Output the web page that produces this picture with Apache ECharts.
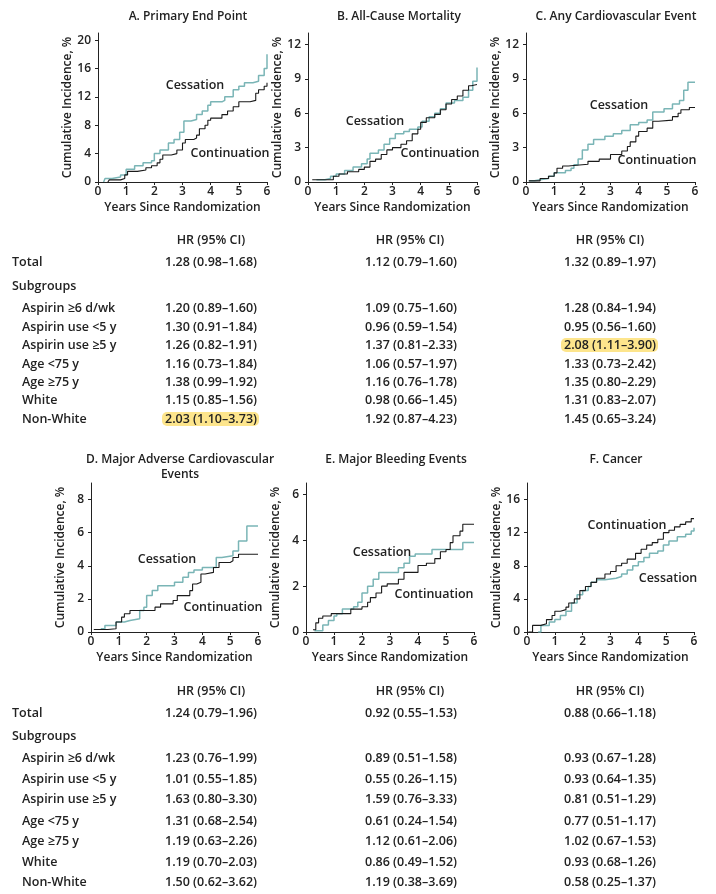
<!DOCTYPE html>
<html><head><meta charset="utf-8">
<script src="https://cdn.jsdelivr.net/npm/echarts@6/dist/echarts.min.js"></script>
<style>html,body{margin:0;padding:0;background:#fff}#c{width:716px;height:894px}</style>
</head><body><div id="c"></div>
<script>
// ---- data (time in years, cumulative incidence %) ----
const aCess = [[0.2,0],[0.25,0.5],[0.5,0.7],[0.8,1],[1.0,1.8],[1.3,2.3],[1.6,2.7],[1.9,3],[2.0,4],[2.2,4.5],[2.5,5.5],[2.7,6],[2.9,7],[3.05,8.6],[3.3,8.8],[3.5,9.5],[3.7,10],[3.9,10.8],[4.0,11.3],[4.4,11.5],[4.5,12],[4.8,13],[5.0,13.5],[5.2,14],[5.5,14.2],[5.7,15],[5.9,16],[6.0,18]];
const aCont = [[0.35,0],[0.4,0.3],[0.8,0.5],[0.95,1],[1.05,1.5],[1.4,1.7],[1.7,2],[1.9,2.3],[2.1,2.7],[2.2,3.2],[2.3,3.8],[2.6,4],[2.8,4.5],[3.0,5.5],[3.1,6],[3.4,6.2],[3.5,6.6],[3.6,7.5],[3.8,8],[3.9,8.7],[4.0,9],[4.4,9.5],[4.6,10],[4.8,10.6],[5.0,11.3],[5.4,11.5],[5.6,12.5],[5.7,13],[5.9,13.5],[6.0,14]];
const bCess = [[0.3,0.2],[0.6,0.3],[0.8,0.5],[1.0,0.7],[1.3,1.0],[1.6,1.3],[1.9,1.6],[2.1,2.0],[2.2,2.5],[2.5,2.8],[2.7,3.3],[2.9,3.8],[3.1,4.2],[3.4,4.4],[3.6,4.6],[3.9,4.8],[4.05,5.3],[4.3,5.7],[4.5,6.0],[4.7,6.4],[4.9,6.9],[5.2,7.1],[5.5,7.4],[5.7,8.0],[5.85,8.8],[6.0,10.0]];
const bCont = [[0.15,0.2],[0.9,0.5],[1.1,0.7],[1.4,0.9],[1.8,1.1],[2.0,1.3],[2.2,1.8],[2.4,2.0],[2.6,2.4],[2.8,2.8],[3.0,3.0],[3.3,3.3],[3.5,3.6],[3.7,4.2],[3.9,4.6],[4.0,5.2],[4.2,5.6],[4.5,5.9],[4.7,6.3],[4.9,6.8],[5.1,7.2],[5.3,7.5],[5.5,8.0],[5.7,8.4],[5.8,8.5],[6.0,8.5]];
const cCess = [[0.1,0.1],[0.3,0.2],[0.5,0.3],[0.8,0.5],[1.0,0.8],[1.4,1.0],[1.6,1.2],[1.7,1.5],[1.85,2.0],[2.0,2.8],[2.2,3.3],[2.4,3.7],[2.8,4.0],[3.1,4.2],[3.4,4.5],[3.7,5.0],[4.0,5.2],[4.3,5.4],[4.5,6.1],[4.9,6.4],[5.2,6.8],[5.45,7.1],[5.6,8.0],[5.75,8.7],[6.0,8.7]];
const cCont = [[0.1,0.1],[0.5,0.3],[0.8,0.5],[1.0,0.8],[1.1,1.2],[1.3,1.4],[1.5,1.55],[2.2,1.8],[2.6,2.0],[3.0,2.4],[3.4,2.7],[3.6,3.1],[3.7,3.5],[3.9,4.0],[4.0,4.4],[4.3,4.7],[4.5,5.3],[4.7,5.4],[5.2,5.7],[5.4,6.0],[5.5,6.3],[5.8,6.5],[6.0,6.5]];
const dCess = [[0.35,0.2],[0.5,0.4],[0.9,0.6],[1.2,0.7],[1.4,0.8],[1.75,1.3],[1.9,1.5],[2.0,2.2],[2.2,2.5],[2.4,2.8],[3.0,3.0],[3.3,3.3],[3.5,3.6],[3.7,3.75],[4.0,3.9],[4.5,4.5],[4.7,4.6],[5.1,4.9],[5.3,5.5],[5.6,6.4],[6.0,6.4]];
const dCont = [[0.1,0.15],[0.6,0.2],[0.9,0.6],[1.1,0.9],[1.2,1.1],[1.4,1.3],[2.3,1.5],[2.5,1.7],[2.95,1.9],[3.1,2.2],[3.55,2.5],[3.65,2.9],[3.8,3.0],[3.95,3.5],[4.1,3.6],[4.4,3.9],[4.6,4.2],[5.0,4.3],[5.1,4.5],[5.3,4.7],[6.0,4.7]];
const eCess = [[0.3,0.05],[0.6,0.3],[0.8,0.5],[1.0,0.7],[1.1,0.8],[1.3,1.0],[1.7,1.1],[1.85,1.3],[2.0,1.7],[2.2,2.0],[2.4,2.3],[2.6,2.6],[3.3,2.8],[3.5,3.0],[3.7,3.3],[3.9,3.4],[4.5,3.6],[5.6,3.9],[6.0,3.9]];
const eCont = [[0.25,0.1],[0.35,0.4],[0.45,0.6],[0.6,0.7],[0.9,0.8],[1.6,1.0],[2.0,1.1],[2.2,1.3],[2.3,1.5],[2.5,1.7],[2.7,2.0],[2.9,2.1],[3.3,2.3],[3.5,2.6],[4.0,2.9],[4.3,3.0],[4.6,3.2],[4.8,3.5],[5.0,3.6],[5.15,3.9],[5.25,4.2],[5.5,4.4],[5.6,4.7],[6.0,4.7]];
const fCess = [[0.4,0],[0.5,0.8],[0.8,1.2],[1.0,1.5],[1.2,2.0],[1.4,2.5],[1.6,3.5],[1.8,4.5],[2.0,5.0],[2.2,5.5],[2.3,6.0],[2.5,6.3],[2.8,6.5],[3.2,6.7],[3.4,7.0],[3.6,7.5],[3.8,8.0],[4.0,8.5],[4.2,9.0],[4.4,9.5],[4.7,9.8],[4.9,10.5],[5.1,11.0],[5.4,11.5],[5.7,11.8],[5.9,12.2],[6.0,12.6]];
const fCont = [[0.05,0],[0.2,0.8],[0.5,1.0],[0.7,1.5],[0.9,2.0],[1.0,2.5],[1.2,2.7],[1.4,3.0],[1.5,3.5],[1.7,4.0],[1.9,5.0],[2.1,5.5],[2.3,6.0],[2.5,6.5],[2.8,7.0],[3.0,7.3],[3.2,8.0],[3.4,8.3],[3.6,8.8],[3.9,9.5],[4.1,10.0],[4.3,10.5],[4.5,10.8],[4.7,11.2],[4.9,12.0],[5.1,12.3],[5.3,12.7],[5.5,13.0],[5.7,13.3],[5.9,13.7],[6.0,13.7]];

const panelTitles = ['A. Primary End Point','B. All-Cause Mortality','C. Any Cardiovascular Event','D. Major Adverse Cardiovascular\nEvents','E. Major Bleeding Events','F. Cancer'];
const xTicks = [0,1,2,3,4,5,6];
const yTicksA = [0,4,8,12,16,20];
const yTicksB = [0,3,6,9,12];
const yTicksC = [0,3,6,9,12];
const yTicksD = [0,2,4,6,8];
const yTicksE = [0,2,4,6];
const yTicksF = [0,4,8,12,16];
const yMax = [21,13,13,9,6.5,18];

const rowLabels = ['Aspirin ≥6 d/wk','Aspirin use <5 y','Aspirin use ≥5 y','Age <75 y','Age ≥75 y','White','Non-White'];
const totalA = '1.28 (0.98–1.68)', totalB = '1.12 (0.79–1.60)', totalC = '1.32 (0.89–1.97)';
const totalD = '1.24 (0.79–1.96)', totalE = '0.92 (0.55–1.53)', totalF = '0.88 (0.66–1.18)';
const hrA = ['1.20 (0.89–1.60)','1.30 (0.91–1.84)','1.26 (0.82–1.91)','1.16 (0.73–1.84)','1.38 (0.99–1.92)','1.15 (0.85–1.56)','2.03 (1.10–3.73)'];
const hrB = ['1.09 (0.75–1.60)','0.96 (0.59–1.54)','1.37 (0.81–2.33)','1.06 (0.57–1.97)','1.16 (0.76–1.78)','0.98 (0.66–1.45)','1.92 (0.87–4.23)'];
const hrC = ['1.28 (0.84–1.94)','0.95 (0.56–1.60)','2.08 (1.11–3.90)','1.33 (0.73–2.42)','1.35 (0.80–2.29)','1.31 (0.83–2.07)','1.45 (0.65–3.24)'];
const hrD = ['1.23 (0.76–1.99)','1.01 (0.55–1.85)','1.63 (0.80–3.30)','1.31 (0.68–2.54)','1.19 (0.63–2.26)','1.19 (0.70–2.03)','1.50 (0.62–3.62)'];
const hrE = ['0.89 (0.51–1.58)','0.55 (0.26–1.15)','1.59 (0.76–3.33)','0.61 (0.24–1.54)','1.12 (0.61–2.06)','0.86 (0.49–1.52)','1.19 (0.38–3.69)'];
const hrF = ['0.93 (0.67–1.28)','0.93 (0.64–1.35)','0.81 (0.51–1.29)','0.77 (0.51–1.17)','1.02 (0.67–1.53)','0.93 (0.68–1.26)','0.58 (0.25–1.37)'];
// highlighted (significant) cells: [panel index, row index]
const highlights = [[0,6],[2,2]];

// ---- layout / style ----
const FONT = "'Open Sans', sans-serif";
const TXT = '#222222';
const CESS = '#7ab5b6';
const CONT = '#1a1a1a';
const grids = [
  {left:98, top:33, width:169, height:149},
  {left:308, top:33, width:169, height:149},
  {left:526, top:33, width:169, height:149},
  {left:91, top:483, width:167, height:149},
  {left:306, top:483, width:168, height:149},
  {left:527, top:483, width:167, height:149}
];
const titlePos = [[183,4],[394,4],[611,4],[175,447],[391,447],[611,447]];
const yTicks = [yTicksA,yTicksB,yTicksC,yTicksD,yTicksE,yTicksF];
const cessData = [aCess,bCess,cCess,dCess,eCess,fCess];
const contData = [aCont,bCont,cCont,dCont,eCont,fCont];
const labelPos = [
  {cess:[195,85], cont:[230,153]},
  {cess:[375,121], cont:[440,153]},
  {cess:[619,105], cont:[657,160]},
  {cess:[167,559], cont:[223,607]},
  {cess:[382,552], cont:[434,594]},
  {cess:[668,578], cont:[627,525]}
];

const axisLine = {show:true, lineStyle:{color:TXT, width:1}};
const axisTick = {show:true, inside:false, length:3, lineStyle:{color:TXT, width:1}};
const lblStyle = {color:TXT, fontFamily:FONT, fontSize:12, fontWeight:600};

const xAxis = [], yAxis = [], series = [], title = [];
grids.forEach((g,i)=>{
  xAxis.push({type:'value', gridIndex:i, min:0, max:6, interval:1,
    axisLine, axisTick:Object.assign({customValues:xTicks}, axisTick), splitLine:{show:false},
    axisLabel:Object.assign({margin:4, customValues:xTicks}, lblStyle),
    name:'Years Since Randomization', nameLocation:'middle', nameGap:20,
    nameTextStyle:Object.assign({}, lblStyle)});
  yAxis.push({type:'value', gridIndex:i, min:0, max:yMax[i],
    axisLine, splitLine:{show:false},
    axisTick:Object.assign({customValues:yTicks[i]}, axisTick),
    axisLabel:Object.assign({margin:7, customValues:yTicks[i]}, lblStyle),
    name:'Cumulative Incidence, %', nameLocation:'middle', nameGap:24,
    nameTextStyle:Object.assign({}, lblStyle)});
  series.push({type:'line', xAxisIndex:i, yAxisIndex:i, step:'end', data:contData[i],
    showSymbol:false, symbol:'none', lineStyle:{color:CONT, width:1.1}, z:3, animation:false});
  series.push({type:'line', xAxisIndex:i, yAxisIndex:i, step:'end', data:cessData[i],
    showSymbol:false, symbol:'none', lineStyle:{color:CESS, width:1.5}, z:2, animation:false});
  title.push({text:panelTitles[i], left:titlePos[i][0], top:titlePos[i][1], textAlign:'center',
    textStyle:{color:TXT, fontFamily:FONT, fontSize:12, fontWeight:600, lineHeight:15}});
});

// ---- graphic: in-plot labels and tables ----
const graphic = [];
function txt(x,y,s,align,size){
  graphic.push({type:'text', x:x, y:y, z:10, silent:true,
    style:{text:s, fill:TXT, fontFamily:FONT, fontSize:size||12.5, fontWeight:600,
      align:align||'left', verticalAlign:'middle'}});
}
labelPos.forEach(p=>{
  txt(p.cess[0], p.cess[1], 'Cessation', 'center', 12.5);
  txt(p.cont[0], p.cont[1], 'Continuation', 'center', 12.5);
});

const tables = [
  {rows:[240,262,286,308,327,345,364,382,400,419], cols:[[totalA,hrA],[totalB,hrB],[totalC,hrC]], base:0},
  {rows:[691,713,736,758,779,799,821,841,862,882], cols:[[totalD,hrD],[totalE,hrE],[totalF,hrF]], base:3}
];
const colX = [165,365,564];
const headX = [211,410,610];
tables.forEach(t=>{
  const r = t.rows;
  highlights.forEach(h=>{
    const c = h[0]-t.base;
    if (c>=0 && c<3) {
      graphic.push({type:'rect', z:5, silent:true,
        shape:{x:colX[c]-3, y:r[3+h[1]]-7, width:97, height:14, r:5},
        style:{fill:'#fde58c'}});
    }
  });
  txt(12, r[1], 'Total');
  txt(12, r[2], 'Subgroups');
  rowLabels.forEach((l,k)=>txt(22, r[3+k], l));
  t.cols.forEach((col,c)=>{
    txt(headX[c], r[0], 'HR (95% CI)', 'center');
    txt(colX[c], r[1], col[0]);
    col[1].forEach((v,k)=>txt(colX[c], r[3+k], v));
  });
});

const chart = echarts.init(document.getElementById('c'), null, {renderer:'canvas'});
chart.setOption({
  animation:false,
  backgroundColor:'#ffffff',
  title, grid:grids, xAxis, yAxis, series, graphic
});
</script></body></html>
